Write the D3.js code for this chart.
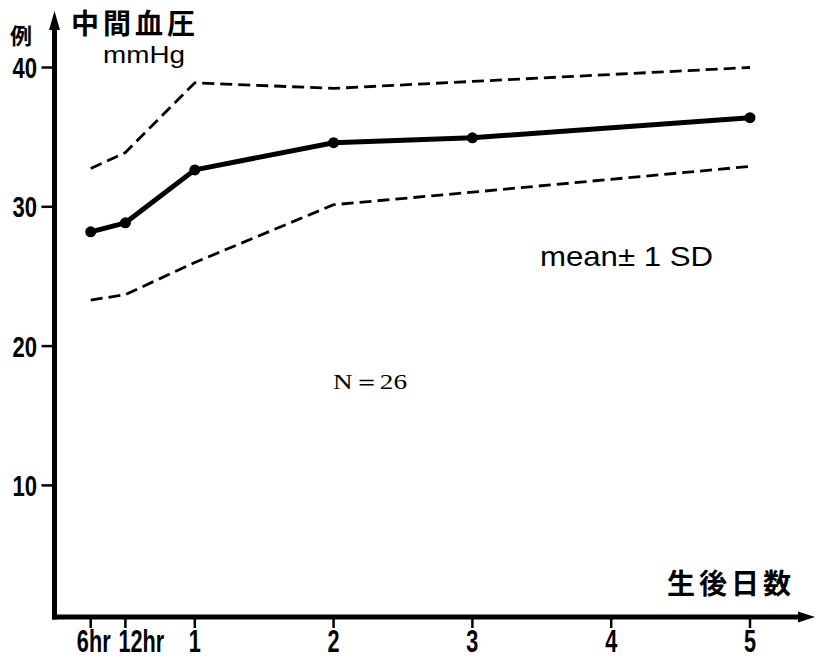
<!DOCTYPE html>
<html>
<head>
<meta charset="utf-8">
<script src="https://cdn.jsdelivr.net/npm/d3@7"></script>
<style>
  html, body { margin: 0; padding: 0; background: #fff; }
  svg { display: block; }
</style>
</head>
<body>
<svg id="chart" width="816" height="658"></svg>
<script>
// ---- data ----
const timePoints = [0.25, 0.5, 1, 2, 3, 5];               // days after birth
const meanValues = [28.2, 28.85, 32.65, 34.6, 34.95, 36.4];
const upperValues = [32.75, 33.9, 38.9, 38.5, 39.0, 40.0];   // mean + 1SD
const lowerValues = [23.3, 23.7, 26.0, 30.15, 31.05, 32.9];  // mean - 1SD
const xTickValues = [0.25, 0.5, 1, 2, 3, 4, 5];
const xTickLabels = ["6hr", "12hr", "1", "2", "3", "4", "5"];
const yTickValues = [10, 20, 30, 40];

const svg = d3.select("#chart");
const x = d3.scaleLinear().domain([0, 5]).range([56, 750]);
const y = d3.scaleLinear().domain([0, 40]).range([624.7, 67.5]);

const axisY = 617;   // x-axis baseline pixel
const axisX = 54.5;  // y-axis pixel

// ---- axes ----
svg.append("line").attr("x1", axisX).attr("x2", axisX)
  .attr("y1", axisY + 2.5).attr("y2", 26)
  .attr("stroke", "#000").attr("stroke-width", 5);
svg.append("path")
  .attr("d", d3.line()([[axisX, 11], [axisX - 5.5, 30], [axisX + 5.5, 30]]) + "Z")
  .attr("fill", "#000");

svg.append("line").attr("x1", axisX - 2.5).attr("x2", 802)
  .attr("y1", axisY).attr("y2", axisY)
  .attr("stroke", "#000").attr("stroke-width", 5);
svg.append("path")
  .attr("d", d3.line()([[815, axisY], [798, axisY - 5.5], [798, axisY + 5.5]]) + "Z")
  .attr("fill", "#000");

// y ticks
const yt = svg.append("g");
yTickValues.forEach(v => {
  yt.append("line").attr("x1", axisX - 13).attr("x2", axisX)
    .attr("y1", y(v)).attr("y2", y(v))
    .attr("stroke", "#000").attr("stroke-width", 2.5);
  yt.append("g").attr("transform", `translate(37,${y(v)}) scale(0.76,1)`)
    .append("text")
    .attr("text-anchor", "end").attr("dy", "0.36em")
    .attr("font-family", "'Liberation Sans', Arial, sans-serif")
    .attr("font-weight", "bold").attr("font-size", 29)
    .text(v);
});

// x ticks
const xt = svg.append("g");
xTickValues.forEach((v, i) => {
  xt.append("line").attr("x1", x(v)).attr("x2", x(v))
    .attr("y1", axisY).attr("y2", axisY + 11)
    .attr("stroke", "#000").attr("stroke-width", 2.5);
  const lab = xTickLabels[i];
  let anchor = "middle", dx = 0;
  if (lab === "6hr") { dx = 3; }
  if (lab === "12hr") { anchor = "start"; dx = -7; }
  xt.append("g").attr("transform", `translate(${x(v) + dx},652) scale(0.7,1)`)
    .append("text")
    .attr("text-anchor", anchor)
    .attr("font-family", "'Liberation Sans', Arial, sans-serif")
    .attr("font-weight", "bold").attr("font-size", 31)
    .text(lab);
});

// ---- series ----
const pts = vals => timePoints.map((t, i) => [x(t), y(vals[i])]);
const line = d3.line();

svg.append("path").attr("d", line(pts(upperValues)))
  .attr("fill", "none").attr("stroke", "#000")
  .attr("stroke-width", 2.8).attr("stroke-dasharray", "12,6");
svg.append("path").attr("d", line(pts(lowerValues)))
  .attr("fill", "none").attr("stroke", "#000")
  .attr("stroke-width", 2.8).attr("stroke-dasharray", "12,6");

svg.append("path").attr("d", line(pts(meanValues)))
  .attr("fill", "none").attr("stroke", "#000")
  .attr("stroke-width", 5).attr("stroke-linejoin", "round");
svg.append("g").selectAll("circle").data(pts(meanValues)).join("circle")
  .attr("cx", d => d[0]).attr("cy", d => d[1]).attr("r", 5.5).attr("fill", "#000");

// ---- text ----
const cjk = "'Noto Sans CJK JP', 'Noto Sans CJK SC', sans-serif";
svg.append("text").attr("x", 10).attr("y", 44)
  .attr("font-family", cjk).attr("font-weight", "bold").attr("font-size", 22)
  .text("例");
svg.append("text").attr("x", 71).attr("y", 34)
  .attr("font-family", cjk).attr("font-weight", "bold").attr("font-size", 28)
  .attr("letter-spacing", 4)
  .text("中間血圧");
svg.append("text").attr("x", 103).attr("y", 63)
  .attr("font-family", "'Liberation Sans', Arial, sans-serif").attr("font-size", 24)
  .attr("textLength", 82).attr("lengthAdjust", "spacingAndGlyphs")
  .text("mmHg");
svg.append("text").attr("x", 540).attr("y", 266)
  .attr("font-family", "'Liberation Sans', Arial, sans-serif").attr("font-size", 28)
  .attr("textLength", 173).attr("lengthAdjust", "spacingAndGlyphs")
  .text("mean± 1 SD");
svg.append("text").attr("x", 333).attr("y", 389)
  .attr("font-family", "'Liberation Serif', 'Times New Roman', serif").attr("font-size", 22)
  .attr("textLength", 74).attr("lengthAdjust", "spacingAndGlyphs")
  .text("N＝26");
svg.append("text").attr("x", 667).attr("y", 594)
  .attr("font-family", cjk).attr("font-weight", "bold").attr("font-size", 28)
  .attr("letter-spacing", 4)
  .text("生後日数");
</script>
</body>
</html>
